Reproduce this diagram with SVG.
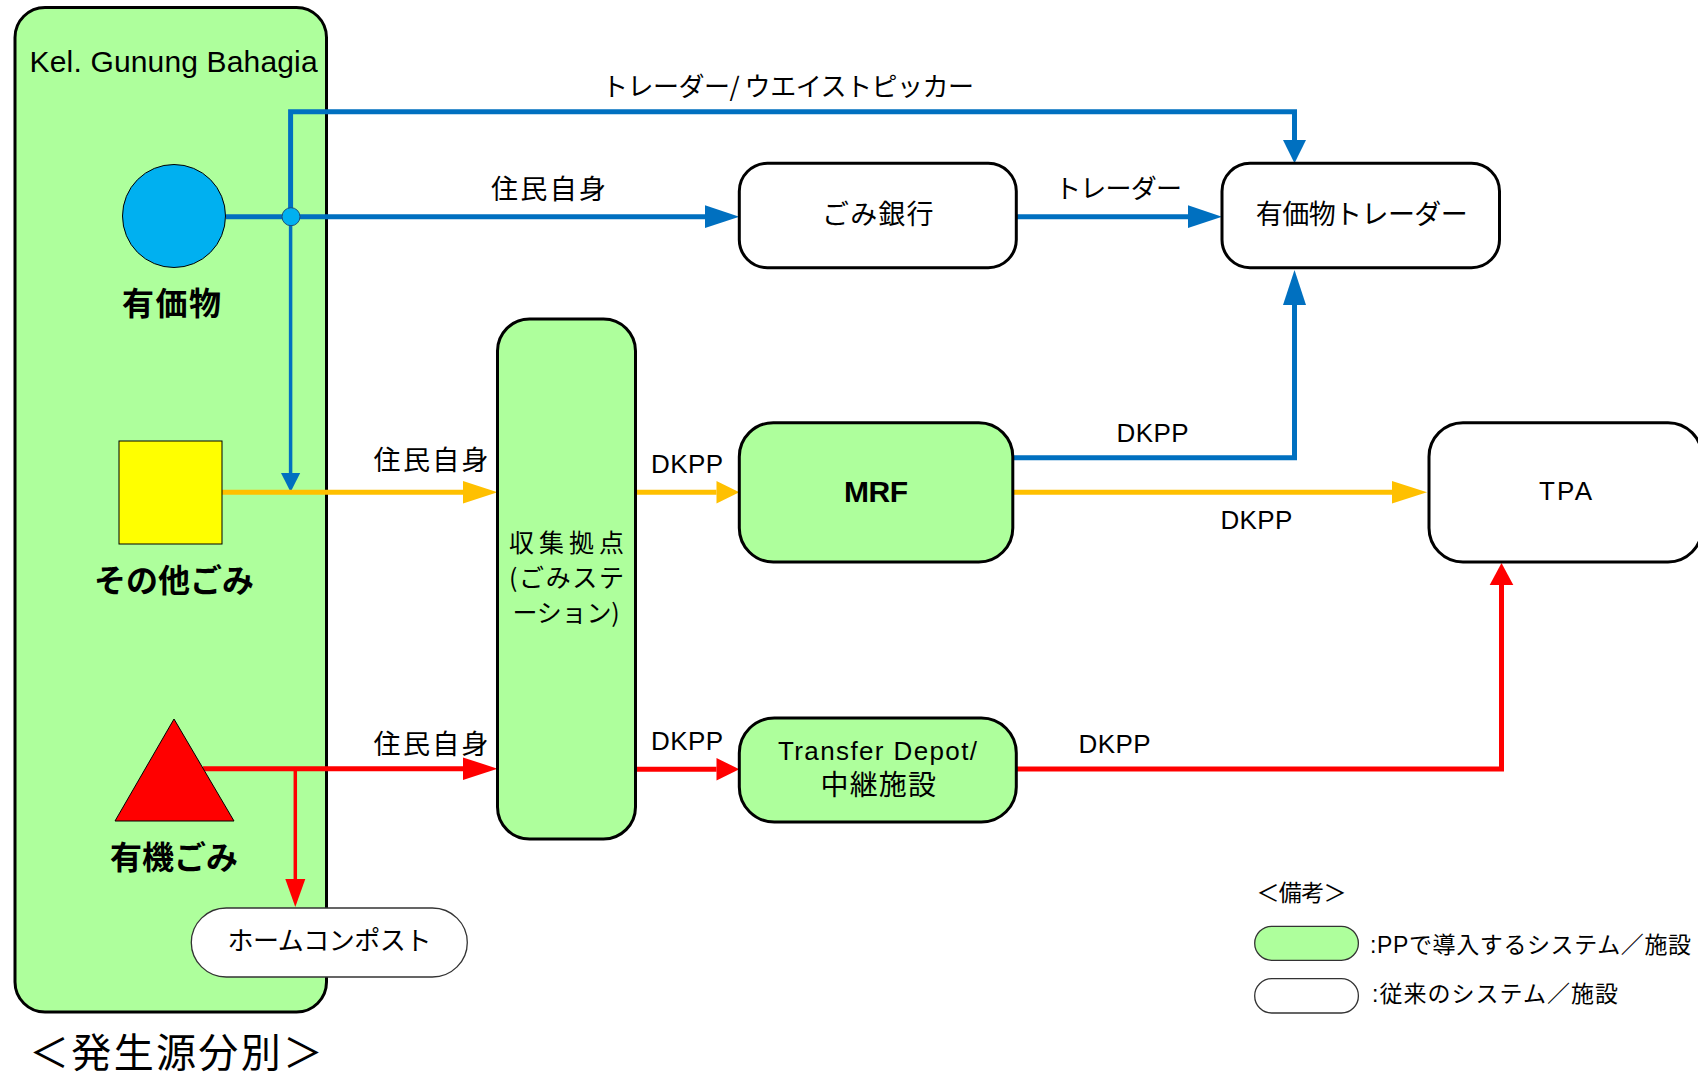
<svg xmlns="http://www.w3.org/2000/svg" width="1698" height="1077" viewBox="0 0 1698 1077">
<style>
.box{stroke:#000;stroke-width:3}
.g{fill:#AEFF9C}
.w{fill:#fff}
.thin{stroke:#333;stroke-width:1.3}
.t{font-family:"Liberation Sans","Noto Sans CJK JP",sans-serif;fill:#000}
.j{font-family:"Noto Sans CJK JP","Liberation Sans",sans-serif;fill:#000}
.b{font-weight:bold}
.lb{stroke:#0070C0;fill:none;stroke-width:5}
.ly{stroke:#FFC000;fill:none;stroke-width:5}
.lr{stroke:#FF0000;fill:none;stroke-width:5}
.tl{stroke-width:3.5}
.hb{fill:#0070C0}
.hy{fill:#FFC000}
.hr{fill:#FF0000}
</style>
<rect x="0" y="0" width="1698" height="1077" fill="#fff"/>

<g id="area">
<rect class="box g" x="15" y="7.5" width="311.5" height="1004.5" rx="30"/>
<text class="t" x="29.6" y="72" font-size="30" textLength="288">Kel. Gunung Bahagia</text>
</g>

<g id="connectors">
<!-- blue -->
<path class="lb" d="M226,216.7 H705"/>
<polygon class="hb" points="705,205.3 739.3,216.7 705,228"/>
<path class="lb" d="M1016,216.7 H1188"/>
<polygon class="hb" points="1188,205.3 1222,216.7 1188,228"/>
<path class="lb" d="M290.6,216.7 V111.7 H1294.5 V140"/>
<polygon class="hb" points="1283,140 1306,140 1294.5,163.3"/>
<path class="lb" d="M1012,457.7 H1294.5 V305"/>
<polygon class="hb" points="1283,305 1306,305 1294.5,270"/>
<path class="lb tl" d="M290.6,216.7 V473"/>
<polygon class="hb" points="281,473 300.2,473 290.6,492"/>
<circle cx="291" cy="216.7" r="9" fill="#00B0F0" stroke="#1F4E79" stroke-width="1"/>
<!-- yellow -->
<path class="ly" d="M222,492.3 H463"/>
<polygon class="hy" points="463,481 497.5,492.3 463,503.6"/>
<path class="ly" d="M635,492.3 H716.5"/>
<polygon class="hy" points="716.5,481 739.3,492.3 716.5,503.6"/>
<path class="ly" d="M1012,492.3 H1392"/>
<polygon class="hy" points="1392,481 1427,492.3 1392,503.6"/>
<!-- red -->
<path class="lr" d="M203,768.7 H463"/>
<polygon class="hr" points="463,757.4 497.5,768.7 463,780"/>
<path class="lr tl" d="M295.3,768.7 V879"/>
<polygon class="hr" points="285.3,879 305.3,879 295.3,907"/>
<path class="lr" d="M635,769.3 H716.5"/>
<polygon class="hr" points="716.5,758 739.3,769.3 716.5,780.6"/>
<path class="lr" d="M1016.5,769 H1501.5 V585"/>
<polygon class="hr" points="1489.7,585 1513.3,585 1501.5,563"/>
<!-- labels -->
<text class="j" x="602" y="96" font-size="26" textLength="372">トレーダー/ ウエイストピッカー</text>
<text class="j" x="491" y="199" font-size="27" textLength="115">住民自身</text>
<text class="j" x="1055" y="198" font-size="26" textLength="127">トレーダー</text>
<text class="j" x="373.6" y="470" font-size="27" textLength="115">住民自身</text>
<text class="j" x="373.6" y="754" font-size="27" textLength="115">住民自身</text>
<text class="t" x="651" y="472.7" font-size="26" textLength="72">DKPP</text>
<text class="t" x="1116.5" y="442" font-size="26" textLength="72">DKPP</text>
<text class="t" x="1220.4" y="529.3" font-size="26" textLength="72">DKPP</text>
<text class="t" x="651" y="749.7" font-size="26" textLength="72">DKPP</text>
<text class="t" x="1078.6" y="753" font-size="26" textLength="72">DKPP</text>
</g>

<g id="valuables">
<circle cx="174" cy="216" r="51.5" fill="#00B0F0" stroke="#000" stroke-width="1"/>
<text class="j b" x="122" y="315" font-size="32" textLength="99">有価物</text>
</g>

<g id="other-waste">
<rect x="119" y="441" width="103" height="103" fill="#FFFF00" stroke="#000" stroke-width="1"/>
<text class="j b" x="94" y="592" font-size="32" textLength="160">その他ごみ</text>
</g>

<g id="organic-waste">
<polygon points="174,719 115,821 234,821" fill="#FF0000" stroke="#000" stroke-width="1"/>
<text class="j b" x="110" y="869" font-size="32" textLength="128">有機ごみ</text>
</g>

<g id="home-compost">
<rect class="w thin" x="191.3" y="908" width="276" height="69" rx="35"/>
<text class="j" x="227.4" y="950" font-size="26" textLength="204">ホームコンポスト</text>
</g>

<g id="collection-point">
<rect class="box g" x="497.5" y="319" width="138" height="520" rx="32"/>
<text class="j" x="509" y="552" font-size="25" textLength="115">収集拠点</text>
<text class="j" x="509" y="587" font-size="25" textLength="115">(ごみステ</text>
<text class="j" x="512.6" y="622" font-size="25" textLength="107">ーション)</text>
</g>

<g id="waste-bank">
<rect class="box w" x="739.3" y="163.3" width="277" height="104.4" rx="28"/>
<text class="j" x="822" y="224" font-size="27" textLength="111.5">ごみ銀行</text>
</g>

<g id="trader">
<rect class="box w" x="1222" y="163.3" width="277.5" height="104.4" rx="28"/>
<text class="j" x="1255.8" y="224" font-size="27" textLength="212">有価物トレーダー</text>
</g>

<g id="mrf">
<rect class="box g" x="739.3" y="422.7" width="273.5" height="139.3" rx="34"/>
<text class="t b" x="844" y="501.7" font-size="30" textLength="64">MRF</text>
</g>

<g id="transfer-depot">
<rect class="box g" x="739.3" y="718" width="277" height="104" rx="35"/>
<text class="t" x="778" y="759.7" font-size="26" textLength="199">Transfer Depot/</text>
<text class="j" x="820.5" y="795" font-size="28" textLength="115.5">中継施設</text>
</g>

<g id="tpa">
<rect class="box w" x="1429" y="422.7" width="273" height="139.3" rx="34"/>
<text class="t" x="1539" y="500" font-size="26" textLength="53">TPA</text>
</g>

<g id="legend">
<text class="j" x="1256.5" y="901" font-size="23" textLength="90">＜備考＞</text>
<rect class="g thin" x="1254.7" y="926.3" width="103.7" height="34" rx="17"/>
<text class="t" x="1370" y="953" font-size="23" textLength="321">:PPで導入するシステム／施設</text>
<rect class="w thin" x="1254.7" y="978.7" width="103.7" height="34.3" rx="17"/>
<text class="t" x="1372" y="1002" font-size="23" textLength="246">:従来のシステム／施設</text>
</g>

<g id="caption">
<text class="j" x="29" y="1067" font-size="40" textLength="294">＜発生源分別＞</text>
</g>
</svg>
